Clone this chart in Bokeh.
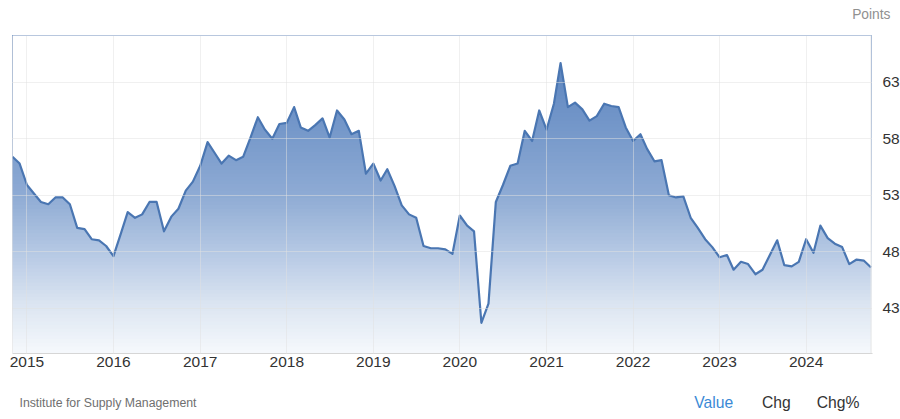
import pandas as pd
from bokeh.plotting import figure
from bokeh.layouts import column
from bokeh.models import Range1d, FixedTicker, DatetimeTickFormatter, Span, Title
from bokeh.core.properties import value
from bokeh.embed import file_html
from bokeh.resources import INLINE

# ---- data (ISM Manufacturing PMI, monthly, points) ----
start_month = "2014-11-01"
pmi_2014 = [56.4, 55.8]
pmi_2015 = [53.9, 53.1, 52.4, 52.2, 52.8, 52.8, 52.2, 50.1, 50.0, 49.1, 49.0, 48.5]
pmi_2016 = [47.6, 49.6, 51.5, 51.0, 51.3, 52.4, 52.4, 49.8, 51.1, 51.8, 53.4, 54.2]
pmi_2017 = [55.6, 57.7, 56.8, 55.8, 56.5, 56.1, 56.4, 58.1, 59.9, 58.8, 58.0, 59.3]
pmi_2018 = [59.4, 60.8, 59.0, 58.7, 59.2, 59.8, 58.1, 60.5, 59.7, 58.4, 58.7, 54.9]
pmi_2019 = [55.8, 54.3, 55.3, 53.8, 52.1, 51.3, 51.0, 48.5, 48.3, 48.3, 48.2, 47.8]
pmi_2020 = [51.2, 50.3, 49.8, 41.7, 43.4, 52.4, 53.9, 55.6, 55.8, 58.7, 57.8, 60.5]
pmi_2021 = [58.8, 61.1, 64.7, 60.8, 61.2, 60.6, 59.6, 60.0, 61.1, 60.9, 60.8, 59.0]
pmi_2022 = [57.8, 58.4, 57.1, 56.0, 56.1, 53.0, 52.8, 52.9, 51.0, 50.1, 49.1, 48.4]
pmi_2023 = [47.5, 47.7, 46.4, 47.1, 46.9, 46.0, 46.4, 47.7, 49.0, 46.8, 46.7, 47.1]
pmi_2024 = [49.1, 47.9, 50.3, 49.2, 48.7, 48.4, 46.9, 47.3, 47.2, 46.6]

year_labels = [2015, 2016, 2017, 2018, 2019, 2020, 2021, 2022, 2023, 2024]
y_ticks = [43, 48, 53, 58, 63]
y_low, y_high = 38.98, 67.14

unit_label = "Points"
source_label = "Institute for Supply Management"
tab_labels = ["Value", "Chg", "Chg%"]

values = (pmi_2014 + pmi_2015 + pmi_2016 + pmi_2017 + pmi_2018 + pmi_2019
          + pmi_2020 + pmi_2021 + pmi_2022 + pmi_2023 + pmi_2024)
dates = pd.date_range(start_month, periods=len(values), freq="MS")

# ---- style ----
FONT = "Liberation Sans"
LINE = "#4a76b2"
GRID = "#e0e0e0"
W = 898
BL, BR = 12, 26          # left / right borders: frame spans 12..872
grad_stops = [(0.0, (246, 249, 252)), (0.16, (218, 228, 241)), (0.32, (181, 200, 228)),
              (0.50, (142, 171, 212)), (1.0, (82, 125, 187))]


def grad_color(t):
    for (t0, c0), (t1, c1) in zip(grad_stops[:-1], grad_stops[1:]):
        if t <= t1:
            f = (t - t0) / (t1 - t0)
            return "#%02x%02x%02x" % tuple(int(round(a + (b - a) * f)) for a, b in zip(c0, c1))
    return "#%02x%02x%02x" % grad_stops[-1][1]


# ---- main chart ----
x_start = dates[0]
x_end = dates[-1] + pd.Timedelta(days=6)

p = figure(x_axis_type="datetime", y_axis_location="right",
           width=W, frame_width=W - BL - BR, frame_height=318,
           min_border_left=BL, min_border_top=35, min_border_right=BR, min_border_bottom=24,
           x_range=Range1d(x_start, x_end), y_range=Range1d(y_low, y_high),
           output_backend="svg", toolbar_location=None,
           background_fill_color="white", border_fill_color="white")
p.outline_line_color = None

# a thin blank panel right above the frame, then the unit label above it
p.add_layout(Title(text=" ", standoff=11, text_font=FONT, text_font_size="1px"), "above")
p.add_layout(Title(text=unit_label, align="right", offset=-18, standoff=0,
                   text_font=FONT, text_font_size="13.8px", text_font_style="normal",
                   text_color="#909090"), "above")

# vertical gradient under the curve: stacked bands, then a white mask above the series
n_bands = 90
step = (y_high - y_low) / n_bands
bottoms = [y_low + i * step for i in range(n_bands)]
colors = [grad_color((b + step / 2 - y_low) / (y_high - y_low)) for b in bottoms]
p.quad(left=[x_start] * n_bands, right=[dates[-1]] * n_bands, bottom=bottoms,
       top=[y_high] * n_bands, fill_color=colors, line_color=None)
p.varea(x=dates, y1=values, y2=[y_high + 1] * len(values), fill_color="white")
p.line(dates, values, line_color=LINE, line_width=2.2, line_join="round")

# borders
p.add_layout(Span(location=x_start, dimension="height", line_color="#dcdcdc", line_width=1))
p.add_layout(Span(location=dates[-1], dimension="height", line_color="#e6e6e6", line_width=1))
p.add_layout(Span(location=y_high, dimension="width", line_color=GRID, line_width=1,
                  line_dash="1 1"))

# grids
year_ms = [pd.Timestamp(f"{y}-01-01").value / 1e6 for y in year_labels]
p.xgrid.ticker = FixedTicker(ticks=year_ms)
p.ygrid.ticker = FixedTicker(ticks=y_ticks)
for g in (p.xgrid, p.ygrid):
    g.grid_line_color = GRID
    g.grid_line_dash = "1 1"
    g.grid_line_width = 1
    g.level = "overlay"

# axes
xa = p.xaxis[0]
xa.ticker = FixedTicker(ticks=year_ms)
xa.formatter = DatetimeTickFormatter(years="%Y", months="%Y", days="%Y", hours="%Y",
                                     minutes="%Y", seconds="%Y", milliseconds="%Y",
                                     microseconds="%Y", hourmin="%Y", minsec="%Y")
xa.axis_line_color = "#d6d6d6"
xa.major_tick_line_color = None
xa.minor_tick_line_color = None
xa.major_label_standoff = -3
xa.major_label_text_font = FONT
xa.major_label_text_font_size = "15.5px"
xa.major_label_text_color = "#333333"

ya = p.yaxis[0]
ya.ticker = FixedTicker(ticks=y_ticks)
ya.axis_line_color = None
ya.major_tick_line_color = None
ya.minor_tick_line_color = None
ya.major_label_standoff = 4
ya.major_label_text_font = FONT
ya.major_label_text_font_size = "15.5px"
ya.major_label_text_color = "#333333"

# ---- bottom strip: source and tabs (frame aligned with the chart, x in page pixels) ----
bottom = figure(width=W, height=40, x_range=Range1d(BL, W - BR), y_range=Range1d(417, 377),
                min_border_left=BL, min_border_right=BR, min_border_top=0, min_border_bottom=0,
                x_axis_location=None, y_axis_location=None,
                output_backend="svg", toolbar_location=None)
bottom.grid.visible = False
bottom.outline_line_color = None
bottom.text(x=[19], y=[402.3], text=[source_label], text_font=value(FONT),
            text_font_size="12.3px", text_color="#6f6f6f", text_baseline="middle")
bottom.text(x=[697, 765, 820], y=[402.3] * 3, text=tab_labels, text_font=value(FONT),
            text_font_size="15.7px", text_color=["#3a8ad6", "#333333", "#333333"],
            text_baseline="middle")

open("out.html", "w").write(file_html(column(p, bottom), INLINE))
